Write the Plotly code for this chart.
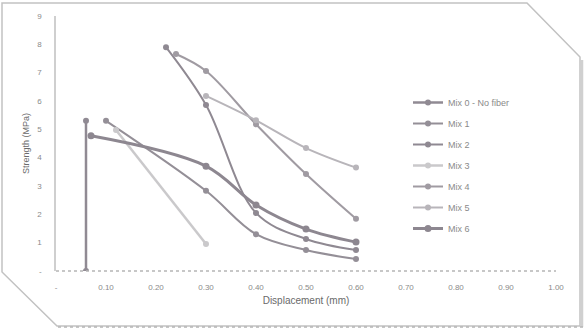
import plotly.graph_objects as go

# ---- data ----
mix0_x = [0.06, 0.06]
mix0_y = [5.30, 0.00]
mix1_x = [0.10, 0.30, 0.40, 0.50, 0.60]
mix1_y = [5.30, 2.83, 1.30, 0.74, 0.42]
mix2_x = [0.22, 0.30, 0.40, 0.50, 0.60]
mix2_y = [7.90, 5.86, 2.05, 1.13, 0.74]
mix3_x = [0.12, 0.30]
mix3_y = [4.98, 0.95]
mix4_x = [0.24, 0.30, 0.40, 0.50, 0.60]
mix4_y = [7.66, 7.06, 5.18, 3.42, 1.84]
mix5_x = [0.30, 0.40, 0.50, 0.60]
mix5_y = [6.18, 5.32, 4.34, 3.65]
mix6_x = [0.07, 0.30, 0.40, 0.50, 0.60]
mix6_y = [4.77, 3.70, 2.33, 1.48, 1.02]

names = ["Mix 0 - No fiber", "Mix 1", "Mix 2", "Mix 3", "Mix 4", "Mix 5", "Mix 6"]
xs = [mix0_x, mix1_x, mix2_x, mix3_x, mix4_x, mix5_x, mix6_x]
ys = [mix0_y, mix1_y, mix2_y, mix3_y, mix4_y, mix5_y, mix6_y]

x_ticks = [0.0, 0.1, 0.2, 0.3, 0.4, 0.5, 0.6, 0.7, 0.8, 0.9, 1.0]
x_ticktext = ["-", "0.10", "0.20", "0.30", "0.40", "0.50", "0.60", "0.70", "0.80", "0.90", "1.00"]
y_ticks = [0, 1, 2, 3, 4, 5, 6, 7, 8, 9]
y_ticktext = ["-", "1", "2", "3", "4", "5", "6", "7", "8", "9"]

# ---- styles ----
colors = ["#908a93", "#948f97", "#8f8992", "#cac9cb", "#a09ba2", "#b8b5ba", "#8d8790"]
widths = [2.5, 2, 2, 2.5, 2, 2, 3]
msizes = [6, 6, 6, 6, 6, 6, 7]

fig = go.Figure()
for n, x, y, c, w, m in zip(names, xs, ys, colors, widths, msizes):
    fig.add_trace(go.Scatter(
        x=x, y=y, name=n, legendgroup=n, mode="lines+markers",
        line=dict(color=c, width=w, shape="spline", smoothing=1.0),
        marker=dict(color=c, size=m, symbol="circle"),
    ))

# helpers to convert pixel positions to paper coords for decorations
L, R, T, B = 56, 28, 16, 57
W, H = 584, 328
pw, ph = W - L - R, H - T - B
def px(x):
    return (x - L) / pw
def py(y):
    return (H - B - y) / ph

frame = "M {} {} L {} {} L {} {} L {} {} L {} {} L {} {} Z".format(
    px(2), py(3), px(527), py(3), px(580), py(57), px(580), py(326),
    px(57), py(326), px(2), py(272))

shapes = [
    dict(type="path", xref="paper", yref="paper", path=frame,
         line=dict(color="#c2c2c2", width=1.5), layer="below"),
    dict(type="line", xref="paper", yref="paper", x0=px(582), x1=px(582),
         y0=py(60), y1=py(327), line=dict(color="#d0d0d0", width=2.5)),
    dict(type="line", xref="paper", yref="paper", x0=px(58), x1=px(583),
         y0=py(327), y1=py(327), line=dict(color="#b5b5b5", width=1.5, dash="dot")),
    dict(type="line", xref="paper", yref="paper", x0=0, x1=1,
         y0=0, y1=0, line=dict(color="#b5b5b5", width=1.5, dash="dot")),
]

tickfont = dict(family="Liberation Sans", size=8, color="#8a8a8a")
fig.update_layout(
    width=W, height=H,
    margin=dict(l=L, r=R, t=T, b=B),
    paper_bgcolor="white", plot_bgcolor="white",
    font=dict(family="Liberation Sans", color="#6f6f6f"),
    shapes=shapes,
    xaxis=dict(range=[0, 1.0], tickvals=x_ticks, ticktext=x_ticktext,
               tickfont=tickfont, showgrid=False, zeroline=False, showline=False,
               ticks="outside", ticklen=8, tickcolor="rgba(0,0,0,0)",
               title=dict(text="Displacement (mm)", font=dict(size=10, color="#6a6a6a"),
                          standoff=6)),
    yaxis=dict(range=[0, 9], tickvals=y_ticks, ticktext=y_ticktext,
               tickfont=tickfont, showgrid=False, zeroline=False,
               showline=True, linecolor="#cfcfcf", linewidth=1.5,
               ticks="outside", ticklen=11, tickcolor="rgba(0,0,0,0)",
               title=dict(text="Strength (MPa)", font=dict(size=9, color="#6a6a6a"),
                          standoff=6)),
    legend=dict(x=px(408), y=py(88), xanchor="left", yanchor="top",
                font=dict(family="Liberation Sans", size=9, color="#8a8a8a"),
                bgcolor="rgba(0,0,0,0)", itemwidth=30, tracegroupgap=2),
    showlegend=True,
)

fig.write_html("out.html")
